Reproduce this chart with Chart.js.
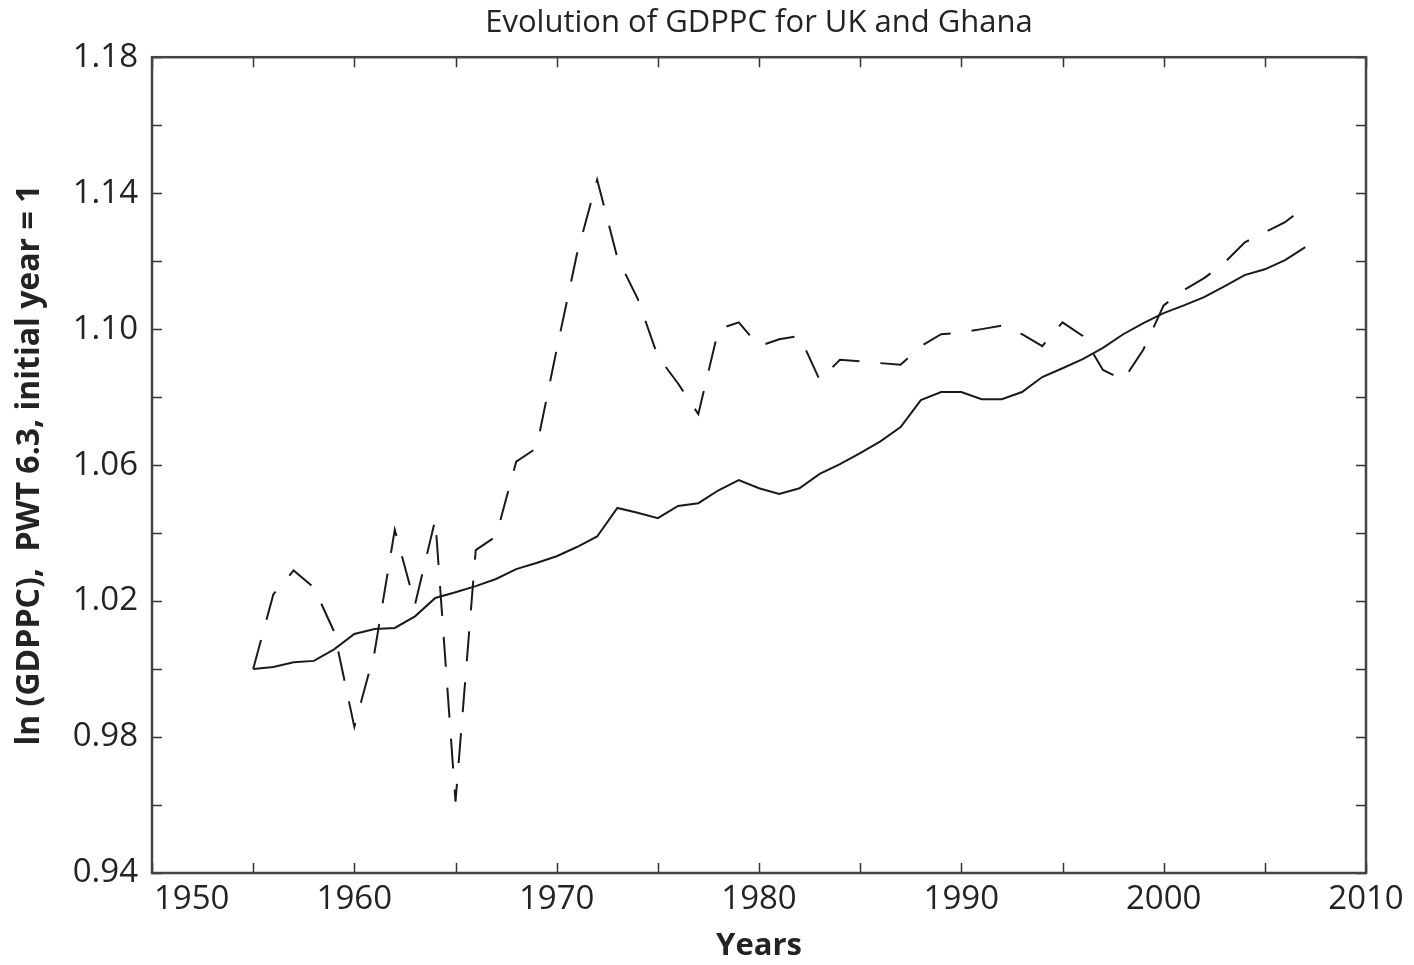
<!DOCTYPE html>
<html>
<head>
<meta charset="utf-8">
<script src="https://cdn.jsdelivr.net/npm/chart.js@4/dist/chart.umd.min.js"></script>
<style>
html,body{margin:0;padding:0;background:#fff;}
#wrap{width:1414px;height:965px;}
</style>
</head>
<body>
<div id="wrap"><canvas id="c" width="1414" height="965"></canvas></div>
<script>
const years = [1955,1956,1957,1958,1959,1960,1961,1962,1963,1964,1965,1966,1967,1968,1969,1970,1971,1972,1973,1974,1975,1976,1977,1978,1979,1980,1981,1982,1983,1984,1985,1986,1987,1988,1989,1990,1991,1992,1993,1994,1995,1996,1997,1998,1999,2000,2001,2002,2003,2004,2005,2006,2007];
const ukValues = [1.000,1.0006,1.002,1.0024,1.0058,1.0103,1.0118,1.0121,1.0155,1.0209,1.0226,1.0244,1.0265,1.0294,1.0312,1.0332,1.0359,1.0390,1.0474,1.0460,1.0444,1.0480,1.0488,1.0526,1.0556,1.0532,1.0515,1.0532,1.0574,1.0603,1.0635,1.0670,1.0712,1.0791,1.0815,1.0815,1.0794,1.0794,1.0815,1.0859,1.0885,1.0912,1.0945,1.0985,1.1018,1.1047,1.1070,1.1094,1.1126,1.1159,1.1176,1.1203,1.1241];
const ghanaValues = [1.000,1.022,1.029,1.024,1.011,0.983,1.005,1.041,1.019,1.044,0.961,1.035,1.039,1.061,1.065,1.094,1.122,1.144,1.121,1.109,1.092,1.084,1.075,1.100,1.102,1.095,1.097,1.098,1.085,1.091,1.0905,1.090,1.0895,1.095,1.0985,1.099,1.100,1.101,1.0985,1.095,1.102,1.098,1.088,1.085,1.094,1.107,1.1115,1.115,1.1195,1.1255,1.1285,1.1315,1.136];
const xTickLabels = ['1950','1960','1970','1980','1990','2000','2010'];
const yTickLabels = ['0.94','0.98','1.02','1.06','1.10','1.14','1.18'];

const FONT = "'Open Sans', 'DejaVu Sans', sans-serif";
const INK = '#232323';

const frameTicks = {
  id: 'frameTicks',
  beforeDraw(chart) {
    // shift the first x label to start just inside the frame, as in the reference
    try {
      const x = chart.scales.x;
      const items = x.getLabelItems();
      const first = items.find(it => it.label === xTickLabels[0]);
      if (first && !first._shifted) {
        first.options.textAlign = 'left';
        first.options.translation[0] = chart.chartArea.left + 2;
        first._shifted = true;
      }
    } catch (e) {}
  },
  afterDraw(chart) {
    const {ctx, chartArea: a, scales: {x, y}} = chart;
    ctx.save();
    ctx.strokeStyle = '#333';
    ctx.lineWidth = 1.5;
    const L = 10;
    x.ticks.forEach(t => {
      const px = Math.round(x.getPixelForValue(t.value)) + 0.5;
      ctx.beginPath();
      ctx.moveTo(px, a.bottom); ctx.lineTo(px, a.bottom - L);
      ctx.moveTo(px, a.top); ctx.lineTo(px, a.top + L);
      ctx.stroke();
    });
    y.ticks.forEach(t => {
      const py = Math.round(y.getPixelForValue(t.value)) + 0.5;
      ctx.beginPath();
      ctx.moveTo(a.left, py); ctx.lineTo(a.left + L, py);
      ctx.moveTo(a.right, py); ctx.lineTo(a.right - L, py);
      ctx.stroke();
    });
    ctx.lineWidth = 2.5;
    ctx.strokeStyle = '#444';
    ctx.strokeRect(a.left, a.top, a.right - a.left, a.bottom - a.top);
    ctx.restore();
  }
};

new Chart(document.getElementById('c'), {
  type: 'line',
  data: {
    datasets: [
      {
        label: 'UK',
        data: years.map((yr, i) => ({x: yr, y: ukValues[i]})),
        borderColor: '#1a1a1a',
        borderWidth: 2,
        pointRadius: 0,
        tension: 0,
        fill: false
      },
      {
        label: 'Ghana',
        data: years.map((yr, i) => ({x: yr, y: ghanaValues[i]})),
        borderColor: '#1a1a1a',
        borderWidth: 2,
        borderDash: [30, 21],
        pointRadius: 0,
        tension: 0,
        fill: false
      }
    ]
  },
  options: {
    responsive: false,
    animation: false,
    devicePixelRatio: 1,
    layout: {padding: {left: 0, right: 48, top: 0, bottom: 0}},
    plugins: {
      legend: {display: false},
      tooltip: {enabled: false},
      title: {
        display: true,
        fullSize: false,
        text: 'Evolution of GDPPC for UK and Ghana',
        color: INK,
        font: {family: FONT, size: 31, weight: 'normal'},
        padding: {top: 5, bottom: 15}
      }
    },
    scales: {
      x: {
        type: 'linear',
        min: 1950,
        max: 2010,
        afterFit: s => { s.height = 92; },
        grid: {display: false, drawTicks: false},
        border: {display: false},
        ticks: {
          stepSize: 5,
          padding: 7,
          color: INK,
          maxRotation: 0,
          autoSkip: false,
          font: {family: FONT, size: 33},
          callback: v => { const s = String(v); return xTickLabels.includes(s) ? s : ''; }
        },
        title: {
          display: true,
          text: 'Years',
          color: INK,
          font: {family: FONT, size: 31, weight: 'bold'},
          padding: {top: 0, bottom: 0}
        }
      },
      y: {
        type: 'linear',
        min: 0.94,
        max: 1.18,
        afterFit: s => { s.width = 152; },
        grid: {display: false, drawTicks: false},
        border: {display: false},
        ticks: {
          stepSize: 0.02,
          padding: 14,
          color: INK,
          autoSkip: false,
          font: {family: FONT, size: 33},
          callback: v => { const s = Number(v).toFixed(2); return yTickLabels.includes(s) ? s : ''; }
        },
        title: {
          display: true,
          text: 'ln (GDPPC),  PWT 6.3, initial year = 1',
          color: INK,
          font: {family: FONT, size: 32, weight: 'bold'},
          padding: {top: 11, bottom: 0}
        }
      }
    }
  },
  plugins: [frameTicks]
});
</script>
</body>
</html>
